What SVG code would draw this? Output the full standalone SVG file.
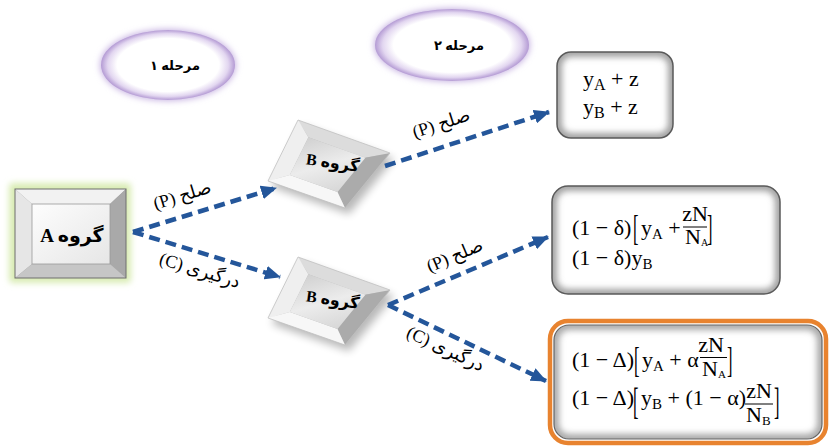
<svg xmlns="http://www.w3.org/2000/svg" xmlns:xlink="http://www.w3.org/1999/xlink" width="829" height="447" viewBox="0 0 829 447">
<style>
.lbl{font-family:"Liberation Serif","DejaVu Sans",serif;font-size:18px;fill:#000}
.fa{font-family:"Liberation Serif","DejaVu Sans",serif;font-weight:bold;fill:#000}
.m{font-family:"Liberation Serif","DejaVu Serif",serif;font-size:22px;fill:#000}
.s{font-size:15px}
.conn{fill:none;stroke:#24569A;stroke-width:4.5;stroke-dasharray:11 6}
.frac{stroke:#000;stroke-width:1}
</style>
<defs>
<marker id="ah" markerUnits="userSpaceOnUse" markerWidth="16" markerHeight="14" refX="15" refY="7" orient="auto">
<path d="M0,0 L16,7 L0,14 z" fill="#24569A"/>
</marker>
<radialGradient id="ellG" cx="0.5" cy="0.5" r="0.5">
<stop offset="0" stop-color="#fff"/>
<stop offset="0.76" stop-color="#fff"/>
<stop offset="0.9" stop-color="#e2d6f0"/>
<stop offset="1" stop-color="#b49bd4"/>
</radialGradient>
<filter id="blur4" x="-20%" y="-20%" width="140%" height="140%"><feGaussianBlur stdDeviation="4"/></filter>
<filter id="blur3" x="-20%" y="-20%" width="140%" height="140%"><feGaussianBlur stdDeviation="3"/></filter>
<linearGradient id="faceG" x1="0" y1="0" x2="1" y2="1">
<stop offset="0" stop-color="#fdfdfd"/>
<stop offset="1" stop-color="#e6e6e6"/>
</linearGradient>
<linearGradient id="bfaceG" x1="0.3" y1="0" x2="0.7" y2="1">
<stop offset="0" stop-color="#d2d2d2"/>
<stop offset="0.5" stop-color="#ececec"/>
<stop offset="1" stop-color="#d6d6d6"/>
</linearGradient>
<clipPath id="c1"><rect x="557" y="52" width="116" height="86" rx="14"/></clipPath>
<clipPath id="c2"><rect x="552" y="186" width="228" height="108" rx="16"/></clipPath>
<clipPath id="c3"><rect x="554" y="325" width="268" height="114" rx="15"/></clipPath>
<g id="bshape">
<polygon points="302,126 394,159 349,214 272,187" fill="#000" opacity="0.28" filter="url(#blur4)"/>
<polygon points="268,181 298,120 308.4,137.3 289.8,175.1" fill="#efefef"/>
<polygon points="298,120 390,153 365.4,157.8 308.4,137.3" fill="#dcdcdc"/>
<polygon points="390,153 345,208 337.5,191.9 365.4,157.8" fill="#ababab"/>
<polygon points="345,208 268,181 289.8,175.1 337.5,191.9" fill="#f7f7f7"/>
<polygon points="308.4,137.3 365.4,157.8 337.5,191.9 289.8,175.1" fill="url(#bfaceG)"/>
<polygon points="268,181 298,120 390,153 345,208" fill="none" stroke="#c0c0c0" stroke-width="0.8"/>
</g>
</defs>
<rect width="829" height="447" fill="#fff"/>

<g id="stage1">
<ellipse cx="168" cy="65" rx="68" ry="36" fill="#c7b3e2" filter="url(#blur3)"/>
<ellipse cx="168" cy="65" rx="67" ry="35" fill="url(#ellG)"/>
<text class="fa" x="175" y="70" font-size="13" text-anchor="middle">مرحله ۱</text>
</g>
<g id="stage2">
<ellipse cx="452" cy="45" rx="78" ry="37" fill="#c7b3e2" filter="url(#blur3)"/>
<ellipse cx="452" cy="45" rx="77" ry="36" fill="url(#ellG)"/>
<text class="fa" x="459" y="50" font-size="13" text-anchor="middle">مرحله ۲</text>
</g>

<g id="groupA">
<rect x="9" y="183" width="122" height="100" rx="4" fill="#d9ecb4" filter="url(#blur3)"/>
<rect x="15" y="189" width="111" height="89" fill="#a0a0a0"/>
<polygon points="15,189 126,189 110,204 32,204" fill="#f2f2f2"/>
<polygon points="15,189 32,204 32,264 15,278" fill="#e6e6e6"/>
<polygon points="126,189 126,278 110,264 110,204" fill="#a9a9a9"/>
<polygon points="15,278 126,278 110,264 32,264" fill="#c6c6c6"/>
<rect x="32" y="204" width="78" height="60" fill="url(#faceG)" stroke="#9a9a9a" stroke-width="0.8"/>
<rect x="15" y="189" width="111" height="89" fill="none" stroke="#6e6e6e" stroke-width="1"/>
<text class="fa" x="72" y="242" font-size="19" text-anchor="middle">A گروه</text>
</g>

<g id="groupB1">
<use xlink:href="#bshape"/>
<text class="fa" font-size="16" text-anchor="middle" transform="translate(332,168) rotate(8)">B گروه</text>
</g>
<g id="groupB2">
<use xlink:href="#bshape" transform="translate(0,137)"/>
<text class="fa" font-size="16" text-anchor="middle" transform="translate(332,305) rotate(8)">B گروه</text>
</g>

<g id="out1">
<rect x="557" y="52" width="116" height="86" rx="14" fill="#fff"/>
<rect x="557" y="52" width="116" height="86" rx="14" fill="none" stroke="#a0a0a0" stroke-width="10" clip-path="url(#c1)" filter="url(#blur3)"/>
<rect x="557" y="52" width="116" height="86" rx="14" fill="none" stroke="#5a5a5a" stroke-width="1.5"/>
<text class="m" x="583" y="86" font-size="24">y<tspan font-size="16" dy="4">A</tspan><tspan dy="-4"> + z</tspan></text>
<text class="m" x="583" y="114" font-size="24">y<tspan font-size="16" dy="4">B</tspan><tspan dy="-4"> + z</tspan></text>
</g>

<g id="out2">
<rect x="552" y="186" width="228" height="108" rx="16" fill="#fff"/>
<rect x="552" y="186" width="228" height="108" rx="16" fill="none" stroke="#a0a0a0" stroke-width="10" clip-path="url(#c2)" filter="url(#blur3)"/>
<rect x="552" y="186" width="228" height="108" rx="16" fill="none" stroke="#5a5a5a" stroke-width="1.5"/>
<text class="m" x="572" y="235">(1 − δ)</text>
<text class="m" font-size="22" transform="translate(633,240) scale(0.75,1.6)">[</text>
<text class="m" x="641" y="235">y<tspan class="s" dy="4">A</tspan><tspan dy="-4"> +</tspan></text>
<text class="m" x="695" y="221" font-size="11" text-anchor="middle">zN</text>
<line class="frac" x1="683" y1="227" x2="707" y2="227"/>
<text class="m" x="685" y="244" font-size="13">N<tspan font-size="10" dy="2">A</tspan></text>
<text class="m" font-size="22" transform="translate(707,240) scale(0.75,1.6)">]</text>
<text class="m" x="572" y="265">(1 − δ)y<tspan class="s" dy="4">B</tspan></text>
</g>

<g id="out3">
<rect x="550" y="321" width="276" height="122" rx="18" fill="#fff" stroke="#E8832F" stroke-width="4.5"/>
<rect x="554" y="325" width="268" height="114" rx="15" fill="none" stroke="#a8a8a8" stroke-width="10" clip-path="url(#c3)" filter="url(#blur3)"/>
<rect x="554" y="325" width="268" height="114" rx="15" fill="none" stroke="#666" stroke-width="1.2"/>
<text class="m" x="572" y="367">(1 − Δ)</text>
<text class="m" font-size="22" transform="translate(634,372) scale(0.75,1.6)">[</text>
<text class="m" x="642" y="367">y<tspan class="s" dy="4">A</tspan><tspan dy="-4"> + α</tspan></text>
<text class="m" x="711" y="352" font-size="11" text-anchor="middle">zN</text>
<line class="frac" x1="700" y1="357.5" x2="727" y2="357.5"/>
<text class="m" x="702" y="376" font-size="14">N<tspan font-size="11" dy="2">A</tspan></text>
<text class="m" font-size="22" transform="translate(727,372) scale(0.75,1.6)">]</text>
<text class="m" x="572" y="405">(1 − Δ)</text>
<text class="m" font-size="22" transform="translate(633,414) scale(0.75,1.75)">[</text>
<text class="m" x="641" y="405">y<tspan class="s" dy="4">B</tspan><tspan dy="-4"> + (1 − α)</tspan></text>
<text class="m" x="759" y="398" font-size="18" text-anchor="middle">zN</text>
<line class="frac" x1="745" y1="404" x2="773" y2="404"/>
<text class="m" x="746" y="422" font-size="18">N<tspan font-size="13" dy="3">B</tspan></text>
<text class="m" font-size="22" transform="translate(774,414) scale(0.75,1.75)">]</text>
</g>

<g id="connectors">
<path class="conn" d="M133,232 L276,188" marker-end="url(#ah)"/>
<path class="conn" d="M133,232 L280,277" marker-end="url(#ah)"/>
<path class="conn" d="M385,166 L549,112" marker-end="url(#ah)"/>
<path class="conn" d="M388,305 L548,237" marker-end="url(#ah)"/>
<path class="conn" d="M388,305 L546,381" marker-end="url(#ah)"/>
<text class="lbl" text-anchor="middle" transform="translate(184,201) rotate(-17)">(P) صلح</text>
<text class="lbl" text-anchor="middle" transform="translate(198,276) rotate(17)">(C) درگیری</text>
<text class="lbl" text-anchor="middle" transform="translate(443,129) rotate(-18)">(P) صلح</text>
<text class="lbl" text-anchor="middle" transform="translate(457,261) rotate(-23)">(P) صلح</text>
<text class="lbl" text-anchor="middle" transform="translate(443,354) rotate(25)">(C) درگیری</text>
</g>
</svg>
